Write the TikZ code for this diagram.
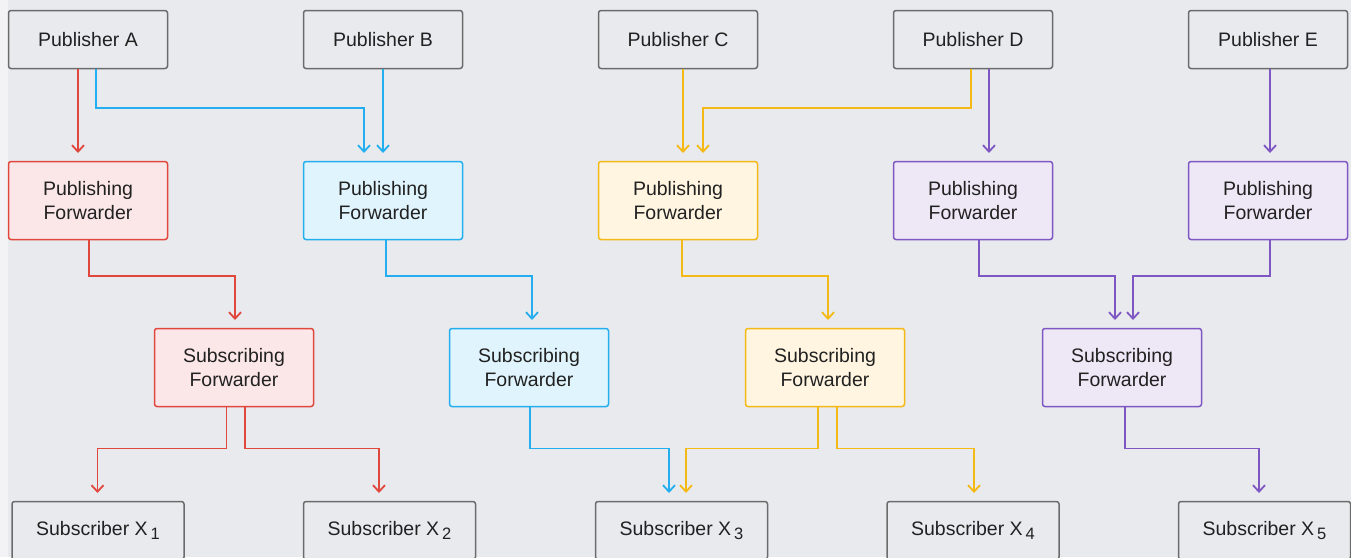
\documentclass[tikz,border=0pt]{standalone}
\usepackage{fontspec}
\setmainfont{Liberation Sans}
\usetikzlibrary{arrows.meta}
\definecolor{bg}{HTML}{E9EAEE}
\definecolor{edgebg}{HTML}{F3F3F5}
\definecolor{txt}{HTML}{212121}
\definecolor{grayline}{HTML}{6B6B6B}
\definecolor{redline}{HTML}{E0483E}
\definecolor{redfill}{HTML}{FBE7E7}
\definecolor{blueline}{HTML}{22AEEF}
\definecolor{bluefill}{HTML}{E0F4FD}
\definecolor{yelline}{HTML}{F5B916}
\definecolor{yelfill}{HTML}{FFF5E0}
\definecolor{purline}{HTML}{7E57C2}
\definecolor{purfill}{HTML}{EDE7F6}
\newcommand{\subidx}[1]{\hspace{3pt}\raisebox{-3.5pt}{\fontsize{16.5}{16.5}\selectfont #1}}
\begin{document}
\begin{tikzpicture}[x=1pt,y=-1pt,
  box/.style={draw, rectangle, rounded corners=2.5pt, line width=1.5pt,
    minimum width=159pt, minimum height=58pt, inner sep=0pt, outer sep=0pt,
    align=center, text=txt, font=\fontsize{19.5}{23.5}\selectfont},
  graybox/.style={box, draw=grayline, fill=bg},
  fwd/.style={box, minimum height=78pt},
  subbox/.style={graybox, minimum width=172pt},
  redbox/.style={fwd, draw=redline, fill=redfill},
  bluebox/.style={fwd, draw=blueline, fill=bluefill},
  yelbox/.style={fwd, draw=yelline, fill=yelfill},
  purbox/.style={fwd, draw=purline, fill=purfill},
  arr/.style={-{Straight Barb[length=6.5pt,width=12pt]}, line width=1.8pt, shorten >=8.5pt, rounded corners=0pt},
  ra/.style={arr, draw=redline},
  ba/.style={arr, draw=blueline},
  ya/.style={arr, draw=yelline},
  pa/.style={arr, draw=purline}]
\useasboundingbox (0,0) rectangle (1351,557);
\clip (0,0) rectangle (1351,557);
\fill[edgebg] (0,0) rectangle (8,557);
\fill[bg] (8,0) rectangle (1351,557);

% publishers
\node[graybox] (pA) at (88,39.5) {Publisher A};
\node[graybox] (pB) at (383,39.5) {Publisher B};
\node[graybox] (pC) at (678,39.5) {Publisher C};
\node[graybox] (pD) at (973,39.5) {Publisher D};
\node[graybox] (pE) at (1268,39.5) {Publisher E};

% publishing forwarders
\node[redbox] (fA) at (88,200.5) {Publishing\\Forwarder};
\node[bluebox] (fB) at (383,200.5) {Publishing\\Forwarder};
\node[yelbox] (fC) at (678,200.5) {Publishing\\Forwarder};
\node[purbox] (fD) at (973,200.5) {Publishing\\Forwarder};
\node[purbox] (fE) at (1268,200.5) {Publishing\\Forwarder};

% subscribing forwarders
\node[redbox] (sA) at (234,367.5) {Subscribing\\Forwarder};
\node[bluebox] (sB) at (529,367.5) {Subscribing\\Forwarder};
\node[yelbox] (sC) at (825,367.5) {Subscribing\\Forwarder};
\node[purbox] (sD) at (1122,367.5) {Subscribing\\Forwarder};

% subscribers
\node[subbox] (x1) at (98,530.5) {Subscriber X\subidx{1}};
\node[subbox] (x2) at (389.5,530.5) {Subscriber X\subidx{2}};
\node[subbox] (x3) at (681.5,530.5) {Subscriber X\subidx{3}};
\node[subbox] (x4) at (973,530.5) {Subscriber X\subidx{4}};
\node[subbox] (x5) at (1264.5,530.5) {Subscriber X\subidx{5}};

% row 1 -> row 2
\draw[ra] ([xshift=-10pt]pA.south) -- ([xshift=-10pt]fA.north);
\draw[ba] ([xshift=8pt]pA.south) -- ++(0,39.5) -| ([xshift=-19pt]fB.north);
\draw[ba] (pB.south) -- (fB.north);
\draw[ya] ([xshift=5pt]pC.south) -- ([xshift=5pt]fC.north);
\draw[ya] ([xshift=-2pt]pD.south) -- ++(0,39.5) -| ([xshift=25pt]fC.north);
\draw[pa] ([xshift=16pt]pD.south) -- ([xshift=16pt]fD.north);
\draw[pa] ([xshift=2pt]pE.south) -- ([xshift=2pt]fE.north);

% row 2 -> row 3
\draw[ra] ([xshift=1pt]fA.south) -- ++(0,36.5) -| ([xshift=1pt]sA.north);
\draw[ba] ([xshift=3pt]fB.south) -- ++(0,36.5) -| ([xshift=3pt]sB.north);
\draw[ya] ([xshift=4pt]fC.south) -- ++(0,36.5) -| ([xshift=3pt]sC.north);
\draw[pa] ([xshift=6pt]fD.south) -- ++(0,36.5) -| ([xshift=-7pt]sD.north);
\draw[pa] ([xshift=2pt]fE.south) -- ++(0,36.5) -| ([xshift=11pt]sD.north);

% row 3 -> row 4
\draw[ra] ([xshift=-7.5pt]sA.south) -- ++(0,42) -| ([xshift=-0.5pt]x1.north);
\draw[ra] ([xshift=11pt]sA.south) -- ++(0,42) -| ([xshift=-10.5pt]x2.north);
\draw[ba] ([xshift=1pt]sB.south) -- ++(0,42) -| ([xshift=-12.5pt]x3.north);
\draw[ya] ([xshift=-7pt]sC.south) -- ++(0,42) -| ([xshift=4.5pt]x3.north);
\draw[ya] ([xshift=12pt]sC.south) -- ++(0,42) -| ([xshift=1pt]x4.north);
\draw[pa] ([xshift=3pt]sD.south) -- ++(0,42) -| ([xshift=-5.5pt]x5.north);
\end{tikzpicture}
\end{document}
